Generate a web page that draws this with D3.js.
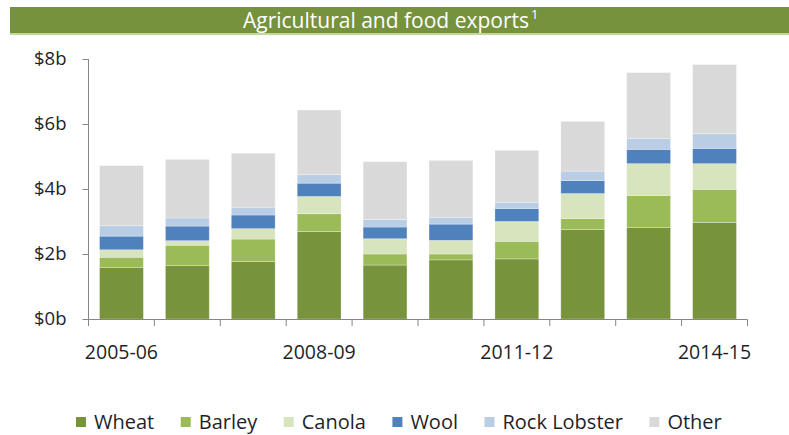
<!DOCTYPE html>
<html>
<head>
<meta charset="utf-8">
<script src="https://cdn.jsdelivr.net/npm/d3@7"></script>
<style>
  html, body { margin: 0; padding: 0; background: #fff; }
  svg { display: block; font-family: "Open Sans", "Noto Sans", sans-serif; }
</style>
</head>
<body>
<svg id="chart" width="789" height="435"></svg>
<script>
// Financial years shown on the horizontal axis
const categories = ["2005-06", "2006-07", "2007-08", "2008-09", "2009-10",
                    "2010-11", "2011-12", "2012-13", "2013-14", "2014-15"];

// Export values by commodity, $ billion
const wheat       = [1.59, 1.65, 1.77, 2.69, 1.66, 1.82, 1.85, 2.75, 2.82, 2.97];
const barley      = [0.31, 0.62, 0.69, 0.55, 0.34, 0.18, 0.54, 0.34, 0.98, 1.02];
const canola      = [0.23, 0.14, 0.32, 0.53, 0.47, 0.42, 0.61, 0.77, 0.98, 0.79];
const wool        = [0.42, 0.45, 0.42, 0.41, 0.36, 0.50, 0.40, 0.40, 0.44, 0.47];
const rockLobster = [0.32, 0.25, 0.24, 0.26, 0.23, 0.21, 0.18, 0.29, 0.34, 0.45];
const other       = [1.85, 1.80, 1.66, 1.99, 1.78, 1.75, 1.61, 1.53, 2.02, 2.13];

const seriesNames = ["Wheat", "Barley", "Canola", "Wool", "Rock Lobster", "Other"];
const seriesData  = [wheat, barley, canola, wool, rockLobster, other];
const seriesColors = ["#77933c", "#9bbb59", "#d7e4bd", "#4f81bd", "#b9cde5", "#d9d9d9"];

// Axis ticks
const yTicks = [0, 2, 4, 6, 8];
const xTickLabels = ["2005-06", "2008-09", "2011-12", "2014-15"];

const titleText = "Agricultural and food exports";

const svg = d3.select("#chart");

// Title banner
svg.append("rect").attr("x", 10).attr("y", 7).attr("width", 779).attr("height", 26)
  .attr("fill", "#76923c");
svg.append("rect").attr("x", 10).attr("y", 33).attr("width", 779).attr("height", 2)
  .attr("fill", "#c4d79b");
const title = svg.append("text")
  .attr("x", 386).attr("y", 27.5)
  .attr("text-anchor", "middle")
  .attr("fill", "#ffffff")
  .attr("font-size", 21)
  .text(titleText);
const tw = title.node().getComputedTextLength();
svg.append("text")
  .attr("x", 386 + tw / 2 + 2).attr("y", 19)
  .attr("fill", "#ffffff")
  .attr("font-size", 13)
  .text("1");

// Plot area
const x = d3.scaleBand().domain(categories).range([88.5, 747.5]).paddingInner(0.335).paddingOuter(0.1675);
const y = d3.scaleLinear().domain([0, 8]).range([319, 59]);

// Stacked layout from the per-commodity arrays
const table = categories.map((c, i) => {
  const row = { category: c };
  seriesNames.forEach((n, k) => { row[n] = seriesData[k][i]; });
  return row;
});
const stacked = d3.stack().keys(seriesNames)(table);

svg.append("g").selectAll("g")
  .data(stacked)
  .join("g")
  .attr("fill", (d, k) => seriesColors[k])
  .selectAll("rect")
  .data(d => d)
  .join("rect")
  .attr("x", d => x(d.data.category))
  .attr("width", x.bandwidth())
  .attr("y", d => y(d[1]))
  .attr("height", d => y(d[0]) - y(d[1]))
  .attr("stroke", "#ffffff")
  .attr("stroke-opacity", 0.35)
  .attr("stroke-width", 0.8);

// Axes
const axisColor = "#868686";
const textColor = "#1f1f2a";

const yAxis = svg.append("g")
  .attr("transform", "translate(88.5,0)")
  .call(d3.axisLeft(y).tickValues(yTicks).tickSize(6).tickPadding(16)
    .tickFormat(d => "$" + d + "b"));
yAxis.select(".domain").attr("stroke", axisColor).attr("d", "M0,59V326");
yAxis.selectAll(".tick line").attr("stroke", axisColor);
yAxis.selectAll(".tick text").attr("fill", textColor).attr("font-size", 18.5)
  .attr("font-family", "'Open Sans', sans-serif");

// x axis: ticks at band boundaries, labels every third year
const boundaries = d3.range(categories.length + 1).map(i =>
  i < categories.length ? x(categories[i]) - x.step() * x.paddingInner() / 2 : 747.5);
const xAxis = svg.append("g");
xAxis.append("line")
  .attr("x1", 88.5).attr("x2", 747.5).attr("y1", 319.5).attr("y2", 319.5)
  .attr("stroke", axisColor);
xAxis.selectAll("line.tick")
  .data(boundaries)
  .join("line")
  .attr("class", "tick")
  .attr("x1", d => d).attr("x2", d => d)
  .attr("y1", 319.5).attr("y2", 326)
  .attr("stroke", axisColor);
xAxis.selectAll("text")
  .data(xTickLabels)
  .join("text")
  .attr("x", d => x(d) + x.bandwidth() / 2)
  .attr("y", 358.5)
  .attr("text-anchor", "middle")
  .attr("fill", textColor)
  .attr("font-size", 19.5)
  .text(d => d);

// Legend
const legend = svg.append("g");
let lx = 76;
seriesNames.forEach((n, k) => {
  legend.append("rect")
    .attr("x", lx).attr("y", 417).attr("width", 10).attr("height", 10)
    .attr("fill", seriesColors[k]);
  const t = legend.append("text")
    .attr("x", lx + 18).attr("y", 429)
    .attr("fill", textColor)
    .attr("font-size", 20)
    .text(n);
  lx += 18 + t.node().getComputedTextLength() + 26.5;
});
</script>
</body>
</html>
